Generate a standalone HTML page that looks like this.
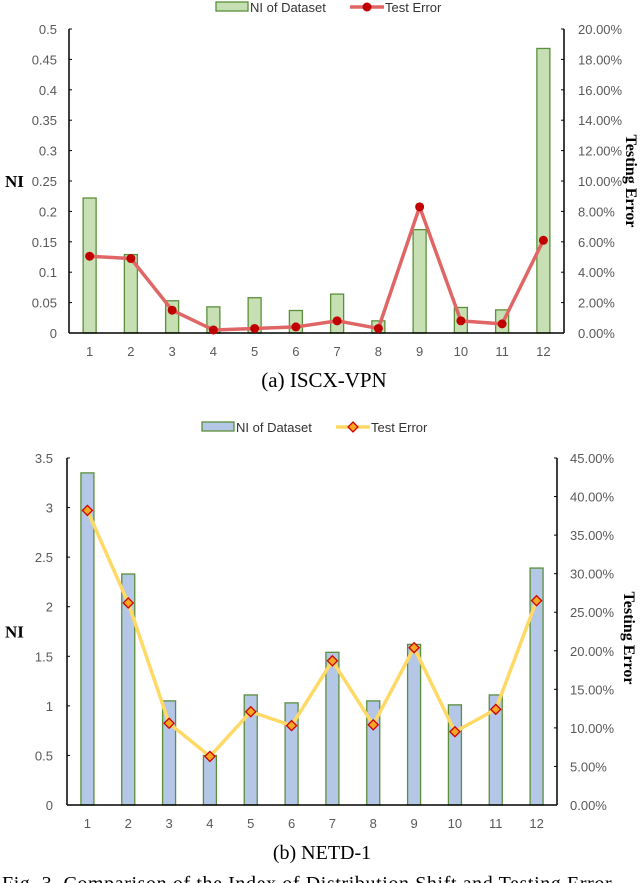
<!DOCTYPE html>
<html><head><meta charset="utf-8"><style>
body{margin:0;background:#fff;}
svg{display:block;font-family:"Liberation Sans",sans-serif;}
.tk{fill:#595959;font-size:13px;}
.ser{font-family:"Liberation Serif",serif;fill:#000;}
</style></head><body>
<svg id="svg" width="640" height="883" viewBox="0 0 640 883"></svg>
<script>
const categories=["1","2","3","4","5","6","7","8","9","10","11","12"];
const niA=[0.222,0.129,0.053,0.043,0.058,0.037,0.064,0.02,0.17,0.042,0.038,0.468];
const errA=[5.05,4.9,1.5,0.2,0.3,0.4,0.8,0.3,8.3,0.8,0.6,6.1];
const leftTicksA=[0,0.05,0.1,0.15,0.2,0.25,0.3,0.35,0.4,0.45,0.5];
const rightTicksA=[0,2,4,6,8,10,12,14,16,18,20];
const niB=[3.35,2.33,1.05,0.5,1.11,1.03,1.54,1.05,1.62,1.01,1.11,2.39];
const errB=[38.2,26.2,10.6,6.3,12.1,10.3,18.7,10.4,20.4,9.5,12.4,26.5];
const leftTicksB=[0,0.5,1,1.5,2,2.5,3,3.5];
const rightTicksB=[0,5,10,15,20,25,30,35,40,45];
const NS="http://www.w3.org/2000/svg";
const svg=document.getElementById('svg');
function mk(tag,attrs,parent,text){const e=document.createElementNS(NS,tag);for(const k in attrs)e.setAttribute(k,attrs[k]);if(text!==undefined)e.textContent=text;(parent||svg).appendChild(e);return e;}
function chart(o){
  const g=mk('g',{});
  
  
  const x=i=>o.x0+(o.x1-o.x0)/12*(i+0.5);
  const yl=v=>o.yb-(v/o.lmax)*(o.yb-o.yt);
  const yr=v=>o.yb-(v/o.rmax)*(o.yb-o.yt);
  o.ni.forEach((v,i)=>{const r=mk('rect',{x:x(i)-6.5,y:yl(v),width:13,height:o.yb-yl(v),fill:o.barFill,stroke:'#5b8f3a','stroke-width':1.3},g);
    
    });
  mk('line',{x1:o.x0,y1:o.yt,x2:o.x0,y2:o.yb,stroke:'#000','stroke-width':1.5},g);
  mk('line',{x1:o.x1,y1:o.yt,x2:o.x1,y2:o.yb,stroke:'#000','stroke-width':1.5},g);
  mk('line',{x1:o.x0,y1:o.yb,x2:o.x1,y2:o.yb,stroke:'#000','stroke-width':1.5},g);
  o.lt.forEach(v=>{mk('line',{x1:o.x0,y1:yl(v),x2:o.x0+3,y2:yl(v),stroke:'#000'},g);
    const t=mk('text',{x:o.lLabX,y:yl(v)+5,'text-anchor':'end',class:'tk'},g,String(v));
    
    });
  o.rt.forEach(v=>{mk('line',{x1:o.x1-3,y1:yr(v),x2:o.x1,y2:yr(v),stroke:'#000'},g);
    const t=mk('text',{x:o.rLabX,y:yr(v)+5,class:'tk'},g,v.toFixed(2)+'%');
    
    });
  categories.forEach((c,i)=>{const t=mk('text',{x:x(i),y:o.yb+23,'text-anchor':'middle',class:'tk'},g,c);
    
    });
  const pts=o.err.map((v,i)=>x(i)+','+yr(v)).join(' ');
  const pl=mk('polyline',{points:pts,fill:'none',stroke:o.lineColor,'stroke-width':3.5,'stroke-linejoin':'round'},g);
  
  
  o.err.forEach((v,i)=>{let m;
    if(o.diamond){const cx=x(i),cy=yr(v);m=mk('polygon',{points:`${cx},${cy-5} ${cx+5},${cy} ${cx},${cy+5} ${cx-5},${cy}`,fill:'#f5a623',stroke:'#d00000','stroke-width':1.3},g);}
    else m=mk('circle',{cx:x(i),cy:yr(v),r:4.5,fill:'#c00000'},g);
    
    });
  const a=mk('text',{x:5,y:(o.yt+o.yb)/2+6,class:'ser','font-size':'17px','font-weight':'bold'},g,'NI');
  
  
  const ry=o.rTitleY, rx=o.rTitleX;
  const b=mk('text',{x:rx,y:ry,class:'ser','font-size':'16px','font-weight':'bold','text-anchor':'middle',transform:`rotate(90 ${rx} ${ry})`},g,'Testing Error');
  
  
  const lg=mk('g',{},g);
  
  
  mk('rect',{x:o.legX,y:o.legY-5,width:32,height:9,fill:o.barFill,stroke:'#5b8f3a','stroke-width':1.3},lg);
  mk('text',{x:o.legX+34,y:o.legY+5,'font-size':'13px',fill:'#333'},lg,'NI of Dataset');
  const lx=o.legX+134;
  mk('line',{x1:lx,y1:o.legY,x2:lx+34,y2:o.legY,stroke:o.lineColor,'stroke-width':3.5},lg);
  if(o.diamond){const cx=lx+17,cy=o.legY;mk('polygon',{points:`${cx},${cy-5} ${cx+5},${cy} ${cx},${cy+5} ${cx-5},${cy}`,fill:'#f5a623',stroke:'#d00000','stroke-width':1.3},lg);}
  else mk('circle',{cx:lx+17,cy:o.legY,r:4.5,fill:'#c00000'},lg);
  mk('text',{x:lx+35,y:o.legY+5,'font-size':'13px',fill:'#333'},lg,'Test Error');
  const c=mk('text',{x:o.capX,y:o.capY,'text-anchor':'middle',class:'ser','font-size':o.capSize+'px'},g,o.caption);
  
  
}
chart({name:'chart-iscx-vpn',x0:69,x1:564,yt:29,yb:333,lmax:0.5,rmax:20,ni:niA,err:errA,lt:leftTicksA,rt:rightTicksA,barFill:'#c6e0b4',lineColor:'#e06666',diamond:false,legX:216,legY:7,lLabX:57,rLabX:578,rTitleX:626,rTitleY:181,caption:'(a) ISCX-VPN',capX:324,capY:387,capSize:21});
chart({name:'chart-netd-1',x0:67,x1:557,yt:458,yb:805,lmax:3.5,rmax:45,ni:niB,err:errB,lt:leftTicksB,rt:rightTicksB,barFill:'#b4c7e7',lineColor:'#ffd966',diamond:true,legX:202,legY:427,lLabX:53,rLabX:570,rTitleX:624,rTitleY:638,caption:'(b) NETD-1',capX:322,capY:859,capSize:20});
const f=mk('text',{x:2,y:890,class:'ser','font-size':'20px','letter-spacing':'0.6px','xml:space':'preserve'},svg,'Fig. 3.    Comparison of the Index of Distribution Shift and Testing Error');


</script>
</body></html>
